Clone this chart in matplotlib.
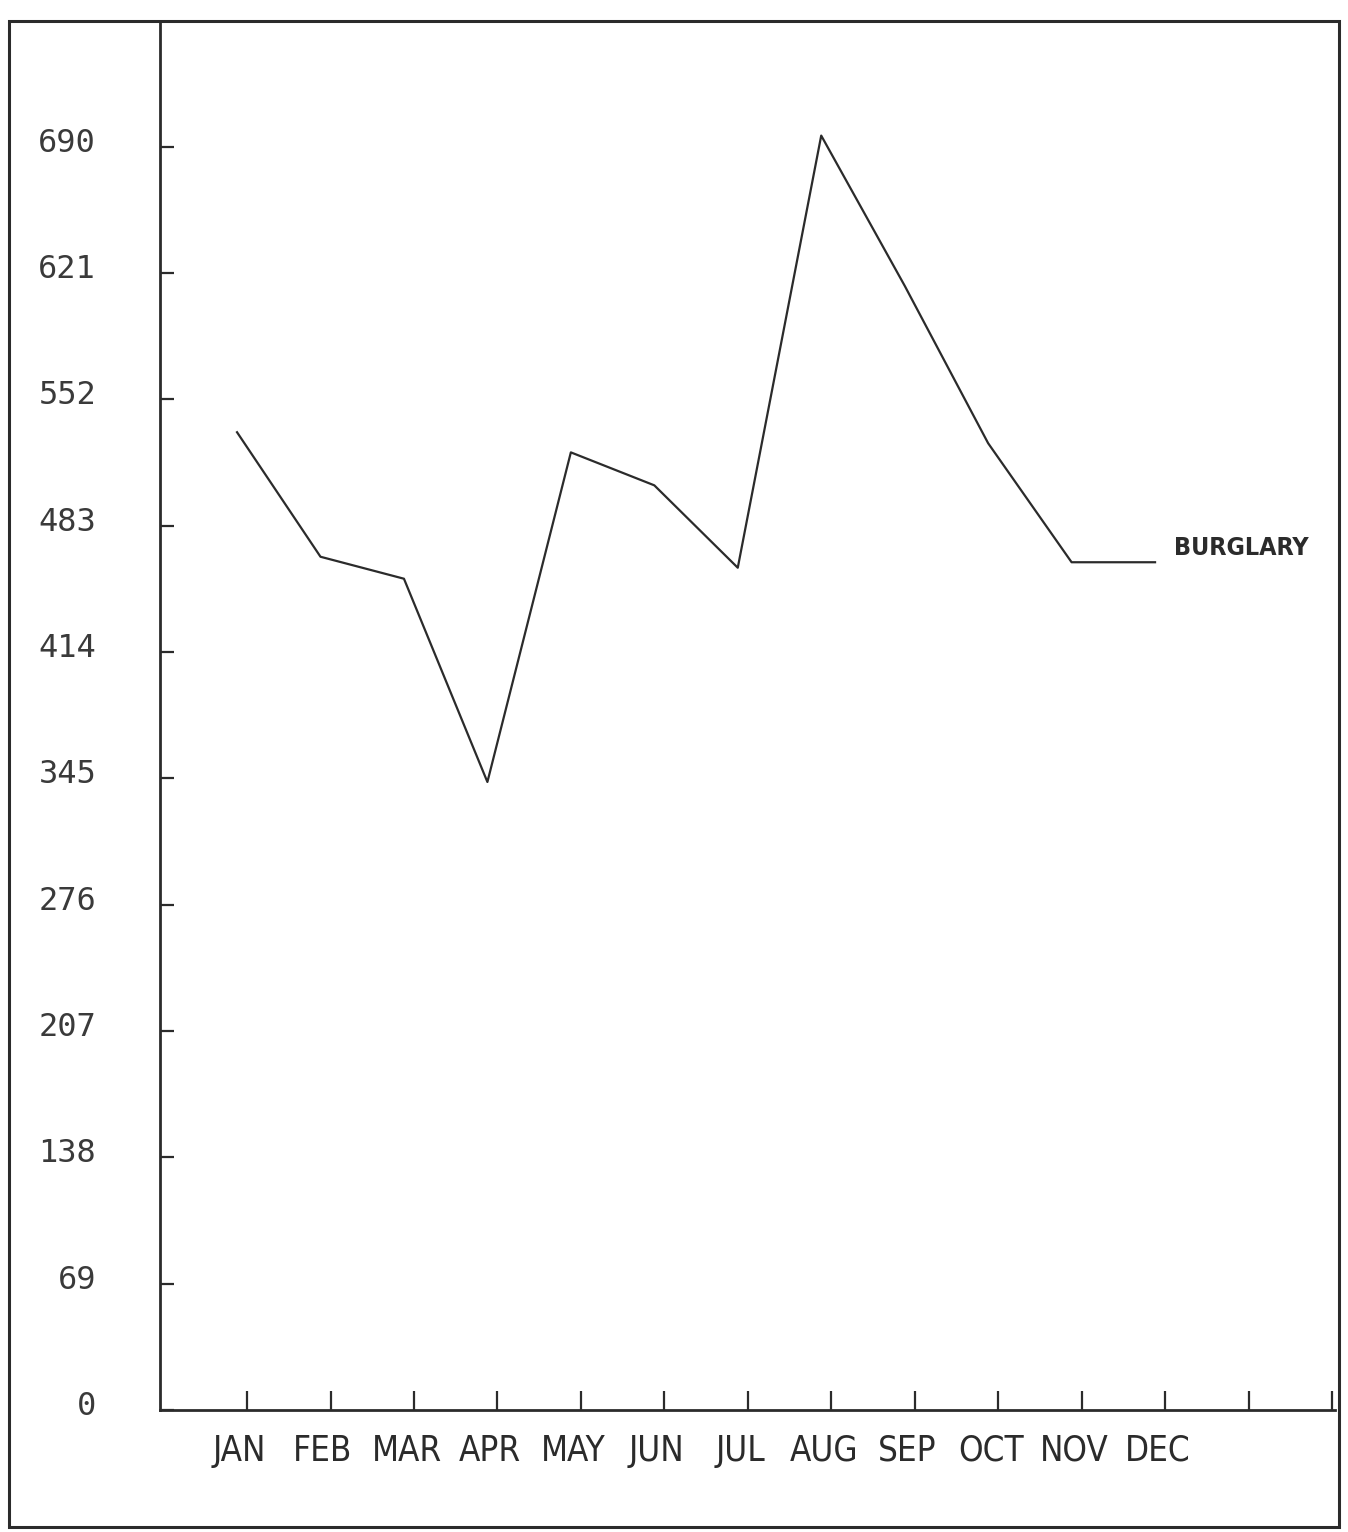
import matplotlib
matplotlib.use("Agg")
import matplotlib.pyplot as plt
from matplotlib.patches import Rectangle
from matplotlib.transforms import ScaledTranslation

months = ["JAN", "FEB", "MAR", "APR", "MAY", "JUN", "JUL", "AUG", "SEP", "OCT", "NOV", "DEC"]
burglary = [534, 466, 454, 343, 523, 505, 460, 696, 614, 528, 463, 463]
y_ticks = [0, 69, 138, 207, 276, 345, 414, 483, 552, 621, 690]
series_name = "BURGLARY"

ink = "#2b2b2b"
fig = plt.figure(figsize=(13.48, 15.32), dpi=100)
fig.patch.set_facecolor("white")

# outer frame
fig.add_artist(Rectangle((0.007, 0.003), 0.986, 0.983, transform=fig.transFigure,
                         fill=False, edgecolor=ink, linewidth=2.2))

ax = fig.add_axes([0.1187, 0.0796, 0.8717, 0.906])
x = list(range(1, len(months) + 1))
ax.plot(x, burglary, color=ink, linewidth=1.6)
ax.annotate(series_name, (12, burglary[-1]), xytext=(14, 10), textcoords="offset points",
            fontsize=18, family="DejaVu Sans", fontstretch="condensed", fontweight="bold",
            color=ink, va="center", ha="left")

ax.set_xlim(0.077, 14.157)
ax.set_ylim(0, 758)
for s in ["top", "right"]:
    ax.spines[s].set_visible(False)
for s in ["left", "bottom"]:
    ax.spines[s].set_color(ink)
    ax.spines[s].set_linewidth(2.0)

ax.set_yticks(y_ticks)
ax.set_yticklabels([str(v) for v in y_ticks], family="DejaVu Sans Mono", fontsize=23, color="#3a3a3a")
ax.tick_params(axis="y", direction="in", length=10, width=1.6, color=ink, pad=46)
for lab in ax.get_yticklabels():
    lab.set_transform(lab.get_transform() + ScaledTranslation(0, 5 / 72, fig.dpi_scale_trans))

ax.set_xticks([i + 0.03 for i in x])
ax.set_xticklabels(months, family="DejaVu Sans", fontstretch="condensed", fontsize=25, color=ink)
ax.tick_params(axis="x", which="major", length=0, pad=17)
ax.set_xticks([i + 0.12 for i in range(1, 15)], minor=True)
ax.tick_params(axis="x", which="minor", direction="in", length=14, width=1.6, color=ink)

fig.savefig("out.png", dpi=100, facecolor="white")
